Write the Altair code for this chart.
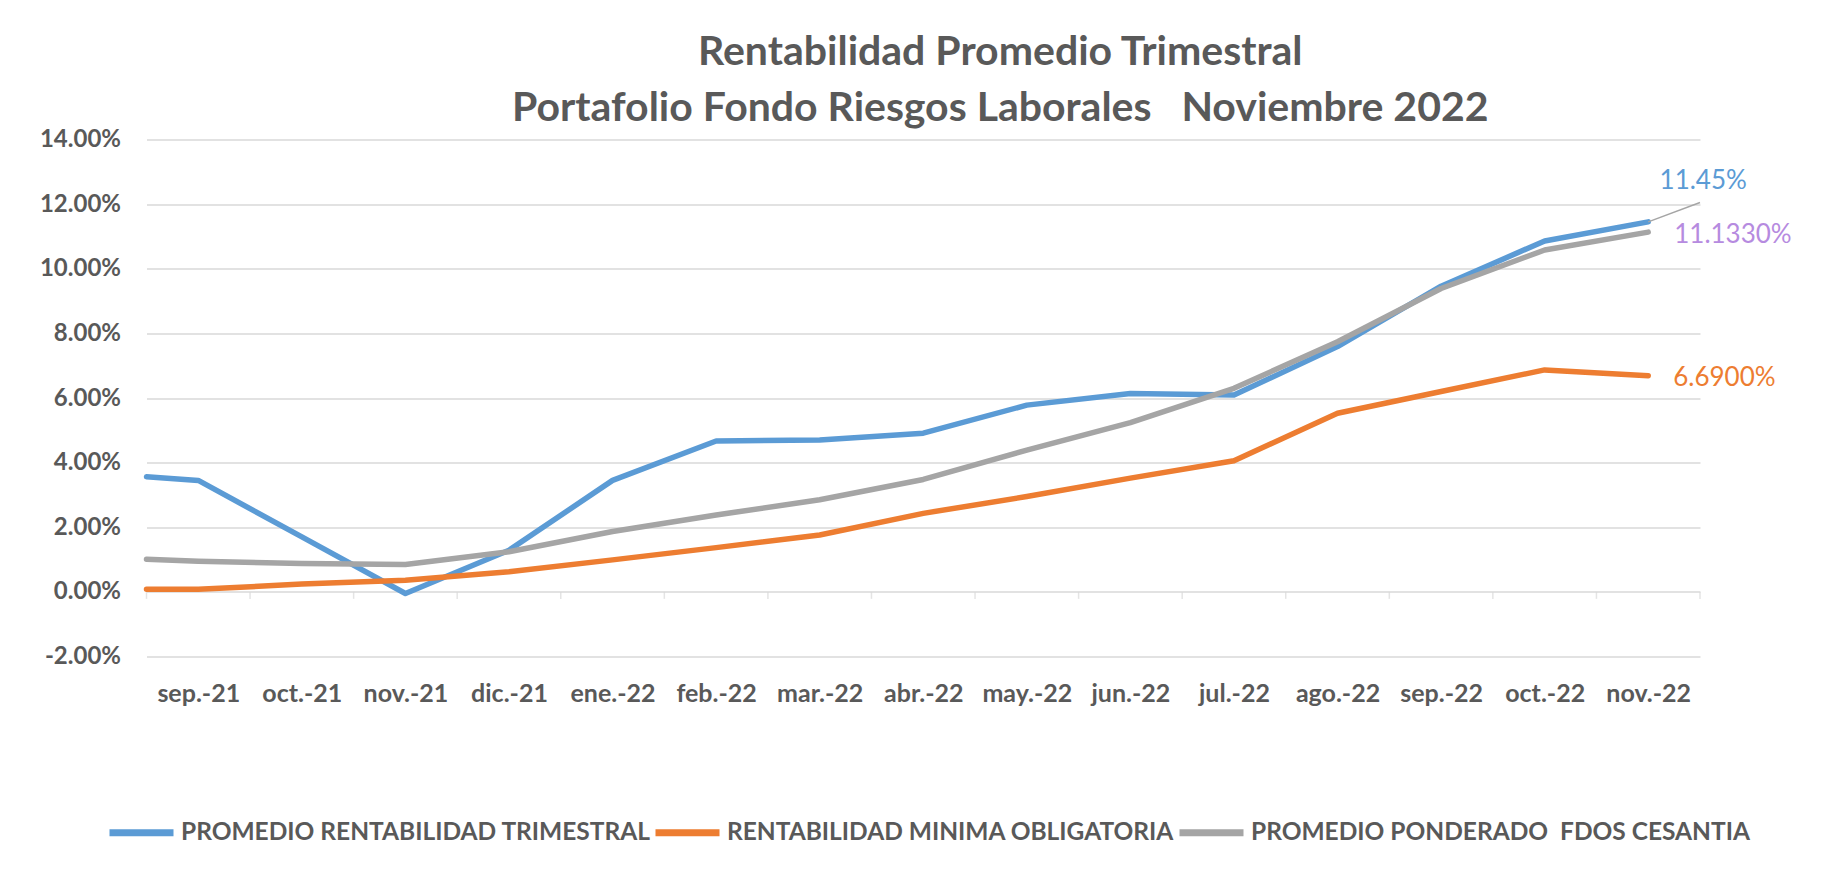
import json
import altair as alt
import pandas as pd

# ---------------- data ----------------
months = ["sep.-21", "oct.-21", "nov.-21", "dic.-21", "ene.-22", "feb.-22", "mar.-22",
          "abr.-22", "may.-22", "jun.-22", "jul.-22", "ago.-22", "sep.-22", "oct.-22", "nov.-22"]
# first point sits on the left edge of the axis, the rest on the month centres
positions = [0.0] + [i + 0.5 for i in range(len(months))]

series_names = ["PROMEDIO RENTABILIDAD TRIMESTRAL",
                "RENTABILIDAD MINIMA OBLIGATORIA",
                "PROMEDIO PONDERADO\u00a0 FDOS CESANTIA"]
series_colors = ["#5b9bd5", "#ed7d31", "#a5a5a5"]

# values in percent
promedio_trimestral = [3.56, 3.45, 1.70, -0.05, 1.29, 3.45, 4.67, 4.70, 4.91, 5.78,
                       6.14, 6.09, 7.59, 9.46, 10.86, 11.45]
minima_obligatoria = [0.08, 0.08, 0.24, 0.36, 0.62, 0.99, 1.37, 1.76, 2.43, 2.95,
                      3.52, 4.06, 5.53, 6.20, 6.87, 6.69]
ponderado_cesantia = [1.01, 0.95, 0.88, 0.85, 1.24, 1.87, 2.38, 2.85, 3.48, 4.39,
                      5.24, 6.30, 7.74, 9.39, 10.58, 11.133]

y_ticks = [-0.02, 0.0, 0.02, 0.04, 0.06, 0.08, 0.10, 0.12, 0.14]
x_boundaries = list(range(len(months) + 1))

ann_labels = ["11.45%", "6.6900%", "11.1330%"]
ann_colors = ["#5b9bd5", "#ed7d31", "#b68be0"]
leader_end = (15.0, 12.05)  # end of the callout line for the blue label (pos, percent)

# ---------------- table ----------------
rows = []
for name, vals in zip(series_names, [promedio_trimestral, minima_obligatoria, ponderado_cesantia]):
    for p, v in zip(positions, vals):
        rows.append({"series": name, "pos": p, "value": v / 100.0})
df = pd.DataFrame(rows)

last_pos = positions[-1]
ends = [promedio_trimestral[-1], minima_obligatoria[-1], ponderado_cesantia[-1]]

FONT = "Lato"
GREY_TXT = "#595959"
GRID = "#d9d9d9"

xscale = alt.Scale(domain=[0, len(months)], nice=False, zero=False)
yscale = alt.Scale(domain=[-0.02, 0.14], nice=False, zero=False)

label_expr = json.dumps(months) + "[floor(datum.value)]"
x_axis = alt.Axis(values=[i + 0.5 for i in range(len(months))], labelExpr=label_expr,
                  ticks=False, domain=False, grid=False, labelFont=FONT,
                  labelFontWeight="bold", labelFontSize=25, labelColor=GREY_TXT,
                  labelPadding=45, labelBaseline="alphabetic", title=None,
                  labelOverlap=False, labelFlush=False)

y_axis = alt.Axis(values=y_ticks,
                  labelExpr="datum.value < 0 ? '-' + format(-datum.value, '.2%') : format(datum.value, '.2%')",
                  grid=True, gridColor=GRID, gridWidth=1.5, domain=False, ticks=False,
                  labelPadding=26, labelFont=FONT, labelFontWeight="bold", labelFontSize=24,
                  labelColor=GREY_TXT, title=None)

X = alt.X("pos:Q", scale=xscale, axis=x_axis)
Y = alt.Y("value:Q", scale=yscale, axis=y_axis)

lines = alt.Chart(df).mark_line(strokeWidth=5.5, strokeCap="round", strokeJoin="round").encode(
    x=X,
    y=Y,
    color=alt.Color("series:N", scale=alt.Scale(domain=series_names, range=series_colors),
                    legend=alt.Legend(orient="none", legendX=-40.5, legendY=657.5,
                                      direction="horizontal", title=None,
                                      symbolType="stroke", symbolSize=4096,
                                      symbolStrokeWidth=7, labelFont=FONT,
                                      labelFontWeight="bold", labelFontSize=24.5,
                                      labelColor=GREY_TXT, labelLimit=0,
                                      columnPadding=-10, labelOffset=4)),
)

# small category tick marks hanging from the 0 % line
tick_df = pd.DataFrame({"pos": x_boundaries, "value": [0.0] * len(x_boundaries)})
ticks = alt.Chart(tick_df).mark_tick(orient="vertical", size=7, thickness=1.5,
                                     color=GRID, yOffset=3.5).encode(x=X, y=Y)

leader_df = pd.DataFrame([{"pos": last_pos, "value": ends[0] / 100.0,
                           "pos2": leader_end[0], "value2": leader_end[1] / 100.0}])
leader = alt.Chart(leader_df).mark_rule(color="#a5a5a5", strokeWidth=1.5).encode(
    x=X, y=Y, x2="pos2:Q", y2="value2:Q",
)

def ann(i, dx, dy, align):
    d = pd.DataFrame([{"pos": last_pos, "value": ends[i] / 100.0, "label": ann_labels[i]}])
    return alt.Chart(d).mark_text(font=FONT, fontSize=26, color=ann_colors[i], align=align,
                                  baseline="middle", dx=dx, dy=dy).encode(
        x=X, y=Y, text="label:N",
    )

ann_blue = ann(0, 55, -41, "center")
ann_orange = ann(1, 25, 2, "left")
ann_grey = ann(2, 26, 3, "left")

chart = alt.layer(ticks, lines, leader, ann_blue, ann_orange, ann_grey).properties(
    width=1553.5, height=517,
    autosize=alt.AutoSizeParams(type="none"),
    padding={"left": 138.5, "top": 131.5, "right": 113, "bottom": 190},
    background="white",
    title=alt.TitleParams(
        text=["Rentabilidad Promedio Trimestral",
              "Portafolio Fondo Riesgos Laborales\u00a0\u00a0 Noviembre 2022"],
        font=FONT, fontSize=41, fontWeight="bold", color=GREY_TXT,
        anchor="middle", dx=77, offset=-2, lineHeight=56, frame="group"),
).configure_view(stroke=None)

chart.save("out.html", embed_options={"renderer": "svg", "actions": False})
